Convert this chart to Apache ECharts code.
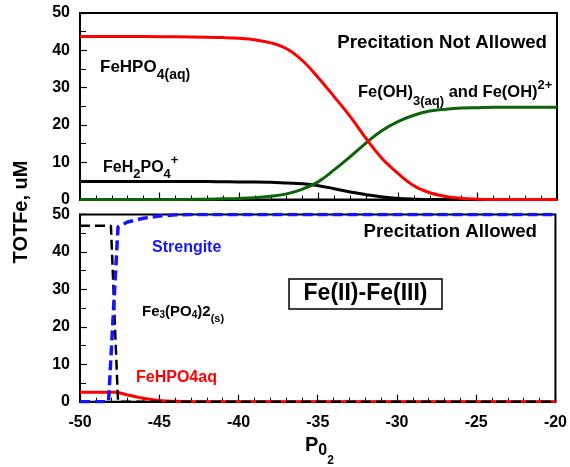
<!DOCTYPE html>
<html><head><meta charset="utf-8">
<script src="https://cdn.jsdelivr.net/npm/echarts@6/dist/echarts.min.js"></script>
<style>html,body{margin:0;padding:0;background:#fff}#c{width:570px;height:467px}</style>
</head><body><div id="c"></div>
<script>
// ---- Top panel: precipitation not allowed ----
const xTop = [-50,-48,-46,-44,-42,-41,-40,-39,-38,-37,-36,-35,-34,-33,-32,-31,-30,-29,-28,-27,-26,-25,-24,-22,-20];
const feHPO4aqTop = [43.7,43.7,43.7,43.6,43.5,43.4,43.2,42.8,42.0,40.4,37.2,32.6,27.5,22.2,16.3,11.0,7.0,3.7,1.8,0.8,0.3,0.1,0,0,0];
const feOH3Top = [0,0,0,0,0.1,0.2,0.3,0.5,0.9,1.5,2.8,4.8,8.0,11.5,15.2,18.5,20.9,22.6,23.7,24.2,24.5,24.6,24.7,24.7,24.7];
const feH2PO4Top = [4.8,4.8,4.8,4.8,4.8,4.75,4.7,4.7,4.6,4.4,4.2,3.7,2.9,2.0,1.3,0.7,0.3,0.1,0,0,0,0,0,0,0];
// ---- Bottom panel: precipitation allowed ----
const xStrengite = [-50,-48.2,-47.6,-47,-46,-45,-44,-43,-20];
const strengite = [0,0,46.7,48.0,49.0,49.6,49.9,50,50];
const xFe3PO42 = [-50,-48.05,-47.6,-20];
const fe3PO42 = [47,47,0,0];
const xFeHPO4aqBot = [-50,-47.8,-47,-46,-45,-44,-43,-20];
const feHPO4aqBot = [2.5,2.5,1.8,0.9,0.35,0.1,0,0];
// ---- Axis ticks ----
const xTicks = [-50,-45,-40,-35,-30,-25,-20];
const yTicks = [0,10,20,30,40,50];

const pairs = (xs, ys) => xs.map((x, i) => [x, ys[i]]);
const FONT = '"Liberation Sans", Arial, sans-serif';

function xAxisCfg(gi, showLabels) {
  return {
    type: 'value', gridIndex: gi, position: 'bottom', min: xTicks[0], max: xTicks[xTicks.length - 1], interval: 5,
    axisLine: { show: true, onZero: false, lineStyle: { color: '#000', width: 2 } },
    axisTick: { show: true, inside: true, length: 7, lineStyle: { color: '#000', width: 1.2 } },
    minorTick: { show: true, splitNumber: 5, length: 4, lineStyle: { color: '#000', width: 1 } },
    splitLine: { show: false },
    axisLabel: { show: showLabels, margin: 13, fontSize: 16, fontWeight: 'bold', color: '#000', fontFamily: FONT }
  };
}
function yAxisCfg(gi) {
  return {
    type: 'value', gridIndex: gi, position: 'left', min: yTicks[0], max: yTicks[yTicks.length - 1], interval: 10,
    axisLine: { show: true, onZero: false, lineStyle: { color: '#000', width: 2 } },
    axisTick: { show: true, inside: true, length: 7, lineStyle: { color: '#000', width: 1.2 } },
    minorTick: { show: true, splitNumber: 2, length: 6, lineStyle: { color: '#000', width: 1 } },
    splitLine: { show: false },
    axisLabel: { margin: 10, fontSize: 16, fontWeight: 'bold', color: '#000', fontFamily: FONT }
  };
}
function line(gi, data, color, width, type, smooth) {
  return {
    type: 'line', xAxisIndex: gi, yAxisIndex: gi, data: data, showSymbol: false, symbol: 'none',
    smooth: smooth ? 0.4 : false,
    lineStyle: { color: color, width: width, type: type || 'solid' }
  };
}

const chart = echarts.init(document.getElementById('c'));
function tok(size, color, pad) {
  return { fontFamily: FONT, fontWeight: 'bold', verticalAlign: 'top', fontSize: size, color: color, padding: [pad, 0, 0, 0] };
}

chart.setOption({
  animation: false,
  backgroundColor: '#fff',
  grid: [
    { left: 80, top: 13, width: 477, height: 186.5, show: true, borderColor: '#000', borderWidth: 2 },
    { left: 80, top: 214.5, width: 477, height: 187.2, show: true, borderColor: '#000', borderWidth: 2 }
  ],
  xAxis: [xAxisCfg(0, false), xAxisCfg(1, true)],
  yAxis: [yAxisCfg(0), yAxisCfg(1)],
  series: [
    line(0, pairs(xTop, feH2PO4Top), '#000000', 3, 'solid', true),
    line(0, pairs(xTop, feOH3Top), '#0c630c', 3, 'solid', true),
    line(0, pairs(xTop, feHPO4aqTop), '#ff0000', 3, 'solid', true),
    line(1, pairs(xFeHPO4aqBot, feHPO4aqBot), '#ff0000', 3, 'solid', true),
    line(1, pairs(xFe3PO42, fe3PO42), '#000000', 2.5, [10, 5], false),
    line(1, pairs(xStrengite, strengite), '#1414ff', 3.5, [10, 5], false)
  ],
  graphic: [
    { type: 'text', x: 21, y: 212, rotation: Math.PI / 2, style: { text: 'TOTFe, uM', fontSize: 20, fontWeight: 'bold', fontFamily: FONT, fill: '#000', textAlign: 'center', textVerticalAlign: 'middle' } },
    { type: 'text', x: 305, y: 435, style: { text: '{a|P}{b|0}{c|2}', textAlign: 'left', textVerticalAlign: 'top',
        rich: { a: tok(20, '#000', 0), b: tok(16, '#000', 8), c: tok(12, '#000', 20) } } },
    { type: 'text', x: 547, y: 43, style: { text: 'Precitation Not Allowed', fontSize: 18.7, fontWeight: 'bold', fontFamily: FONT, fill: '#000', textAlign: 'right', textVerticalAlign: 'middle' } },
    { type: 'text', x: 100, y: 59, style: { text: '{m|FeHPO}{s|4(aq)}', textAlign: 'left', textVerticalAlign: 'top',
        rich: { m: tok(17, '#ff0000', 0), s: tok(14, '#ff0000', 9) } } },
    { type: 'text', x: 358, y: 78.5, style: { text: '{m|Fe(OH)}{s|3(aq)}{m| and Fe(OH)}{p|2+}', textAlign: 'left', textVerticalAlign: 'top',
        rich: { m: tok(16.5, '#1c7a1c', 5.75), s: tok(13, '#1c7a1c', 16), p: tok(13, '#1c7a1c', 0) } } },
    { type: 'text', x: 103, y: 153.5, style: { text: '{m|FeH}{s|2}{m|PO}{s|4}{p|+}', textAlign: 'left', textVerticalAlign: 'top',
        rich: { m: tok(16, '#000', 6), s: tok(13, '#000', 14), p: tok(13, '#000', 0) } } },
    { type: 'text', x: 537, y: 232, style: { text: 'Precitation Allowed', fontSize: 18.7, fontWeight: 'bold', fontFamily: FONT, fill: '#000', textAlign: 'right', textVerticalAlign: 'middle' } },
    { type: 'rect', shape: { x: 289, y: 279, width: 153, height: 30 }, style: { fill: '#fff', stroke: '#000', lineWidth: 1.5 } },
    { type: 'text', x: 365.5, y: 294, style: { text: 'Fe(II)-Fe(III)', fontSize: 23, fontWeight: 'bold', fontFamily: FONT, fill: '#000', textAlign: 'center', textVerticalAlign: 'middle' } },
    { type: 'text', x: 152, y: 248, style: { text: 'Strengite', fontSize: 16, fontWeight: 'bold', fontFamily: FONT, fill: '#1414ff', textAlign: 'left', textVerticalAlign: 'middle' } },
    { type: 'text', x: 142, y: 304, style: { text: '{m|Fe}{s|3}{m|(PO}{s|4}{m|)2}{t|(s)}', textAlign: 'left', textVerticalAlign: 'top',
        rich: { m: tok(15, '#000', 0), s: tok(10, '#000', 6), t: tok(11, '#000', 9) } } },
    { type: 'text', x: 136, y: 378, style: { text: 'FeHPO4aq', fontSize: 16, fontWeight: 'bold', fontFamily: FONT, fill: '#ff0000', textAlign: 'left', textVerticalAlign: 'middle' } }
  ]
});
</script>
</body></html>
